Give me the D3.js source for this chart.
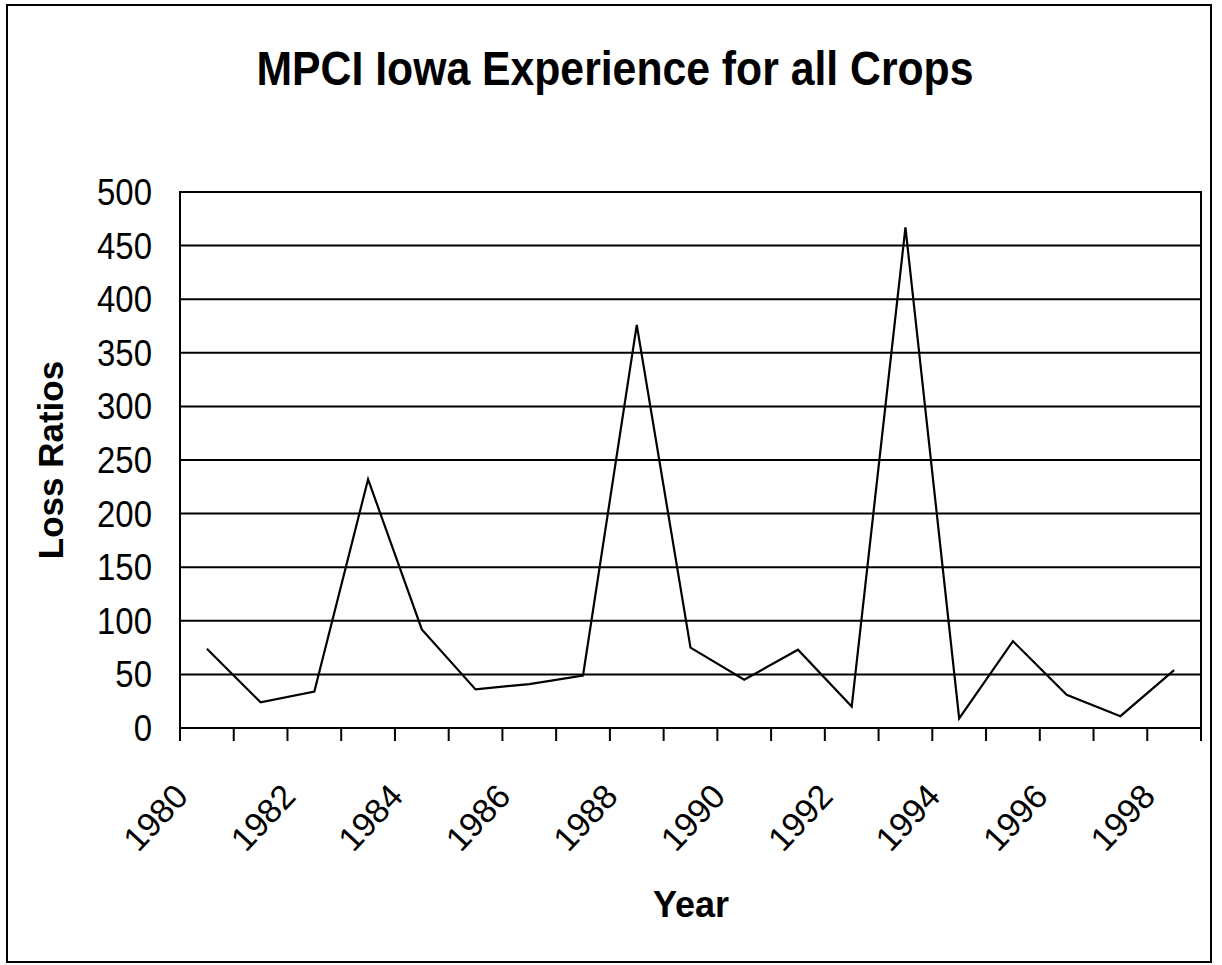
<!DOCTYPE html>
<html>
<head>
<meta charset="utf-8">
<script src="https://cdn.jsdelivr.net/npm/d3@7"></script>
<style>
  html, body { margin: 0; padding: 0; background: #fff; }
  svg { display: block; }
  text { font-family: "Liberation Sans", Arial, sans-serif; fill: #000; }
</style>
</head>
<body>
<svg id="chart" width="1222" height="965"></svg>
<script>
// Loss ratios for multi-peril crop insurance in Iowa, 1980–1998
const years = [1980, 1981, 1982, 1983, 1984, 1985, 1986, 1987, 1988, 1989,
               1990, 1991, 1992, 1993, 1994, 1995, 1996, 1997, 1998];
const lossRatios = [74, 24, 34, 232, 92, 36, 41, 49, 376, 75,
                    45, 73, 20, 467, 9, 81, 31, 11, 54];
const yTicks = [0, 50, 100, 150, 200, 250, 300, 350, 400, 450, 500];
const xLabelYears = [1980, 1982, 1984, 1986, 1988, 1990, 1992, 1994, 1996, 1998];

const titleText = "MPCI Iowa Experience for all Crops";
const yTitle = "Loss Ratios";
const xTitle = "Year";

const svg = d3.select("#chart");
const plot = { left: 180, right: 1201, top: 192, bottom: 728 };

const x = d3.scaleBand().domain(years).range([plot.left, plot.right]).padding(0);
const y = d3.scaleLinear().domain([0, 500]).range([plot.bottom, plot.top]);

// narrow the type slightly, as in the printed chart
function condense(sel, k) {
  sel.each(function () {
    const len = this.getComputedTextLength();
    d3.select(this).attr("textLength", len * k).attr("lengthAdjust", "spacingAndGlyphs");
  });
}

// outer chart frame
svg.append("rect")
  .attr("x", 7).attr("y", 5).attr("width", 1204).attr("height", 957)
  .attr("fill", "none").attr("stroke", "#000").attr("stroke-width", 2);

// title
svg.append("text")
  .attr("x", 615).attr("y", 85)
  .attr("text-anchor", "middle")
  .style("font-size", "48px").style("font-weight", "bold")
  .text(titleText)
  .call(condense, 0.89);

// horizontal gridlines
svg.append("g").selectAll("line").data(yTicks).join("line")
  .attr("x1", plot.left).attr("x2", plot.right)
  .attr("y1", d => y(d)).attr("y2", d => y(d))
  .attr("stroke", "#000").attr("stroke-width", 2);

// plot frame
svg.append("rect")
  .attr("x", plot.left).attr("y", plot.top)
  .attr("width", plot.right - plot.left).attr("height", plot.bottom - plot.top)
  .attr("fill", "none").attr("stroke", "#000").attr("stroke-width", 2);

// y tick labels
svg.append("g").selectAll("text").data(yTicks).join("text")
  .attr("x", 152).attr("y", d => y(d) + 13)
  .attr("text-anchor", "end")
  .style("font-size", "37px")
  .text(d => d)
  .call(condense, 0.89);

// x tick marks at category boundaries
const boundaries = years.map(d => x(d)).concat([plot.right]);
svg.append("g").selectAll("line").data(boundaries).join("line")
  .attr("x1", d => d).attr("x2", d => d)
  .attr("y1", plot.bottom).attr("y2", plot.bottom + 13)
  .attr("stroke", "#000").attr("stroke-width", 2);

// rotated category labels
svg.append("g").selectAll("text").data(xLabelYears).join("text")
  .attr("transform", d => `translate(${x(d) + x.bandwidth() / 2 - 17},798) rotate(-47)`)
  .attr("text-anchor", "end")
  .style("font-size", "34px")
  .text(d => d);

// series line
const line = d3.line()
  .x((d, i) => x(years[i]) + x.bandwidth() / 2)
  .y(d => y(d));
svg.append("path")
  .datum(lossRatios)
  .attr("d", line)
  .attr("fill", "none").attr("stroke", "#000").attr("stroke-width", 2.2)
  .attr("stroke-linejoin", "miter");

// axis titles
svg.append("text")
  .attr("transform", "translate(63,460) rotate(-90)")
  .attr("text-anchor", "middle")
  .style("font-size", "35px").style("font-weight", "bold")
  .text(yTitle);

svg.append("text")
  .attr("x", 691).attr("y", 917)
  .attr("text-anchor", "middle")
  .style("font-size", "36px").style("font-weight", "bold")
  .text(xTitle);
</script>
</body>
</html>
